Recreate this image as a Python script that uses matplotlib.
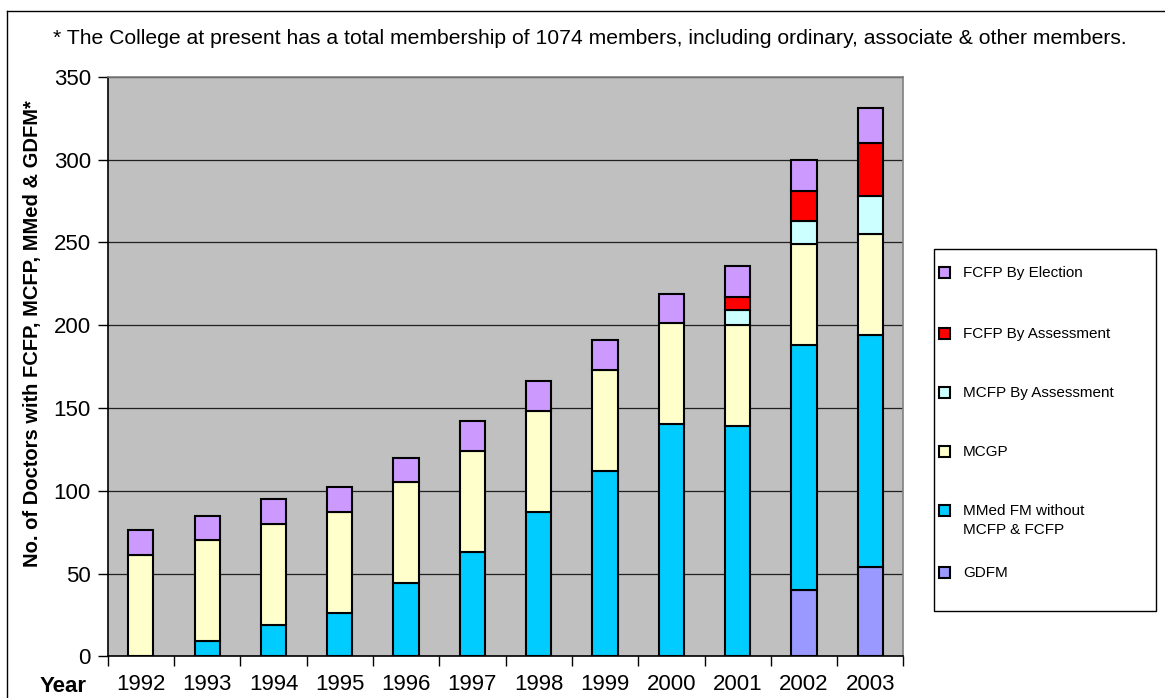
import numpy as np
import matplotlib
matplotlib.use("Agg")
from matplotlib import pyplot as plt
from matplotlib.lines import Line2D
from matplotlib.patches import Rectangle

plt.rcParams['font.family'] = ['Liberation Sans', 'DejaVu Sans']

years = ['1992', '1993', '1994', '1995', '1996', '1997',
         '1998', '1999', '2000', '2001', '2002', '2003']

# series, bottom to top
gdfm = [0, 0, 0, 0, 0, 0, 0, 0, 0, 0, 40, 54]
mmed_fm = [0, 9, 19, 26, 44, 63, 87, 112, 140, 139, 148, 140]
mcgp = [61, 61, 61, 61, 61, 61, 61, 61, 61, 61, 61, 61]
mcfp_assess = [0, 0, 0, 0, 0, 0, 0, 0, 0, 9, 14, 23]
fcfp_assess = [0, 0, 0, 0, 0, 0, 0, 0, 0, 8, 18, 32]
fcfp_elect = [15, 15, 15, 15, 15, 18, 18, 18, 18, 19, 19, 21]

series = [
    ('GDFM', gdfm, '#9999FF'),
    ('MMed FM without\nMCFP & FCFP', mmed_fm, '#00CCFF'),
    ('MCGP', mcgp, '#FFFFCC'),
    ('MCFP By Assessment', mcfp_assess, '#CCFFFF'),
    ('FCFP By Assessment', fcfp_assess, '#FF0000'),
    ('FCFP By Election', fcfp_elect, '#CC99FF'),
]

note = ('* The College at present has a total membership of 1074 members, '
        'including ordinary, associate & other members.')
ylabel = 'No. of Doctors with FCFP, MCFP, MMed & GDFM*'

W, H = 1165, 698
fig = plt.figure(figsize=(W / 100, H / 100), dpi=100)
ax = fig.add_axes([0.0924, 0.0597, 0.6831, 0.8304])
ax.set_facecolor('#C0C0C0')

x = np.arange(len(years))
bottom = np.zeros(len(years))
for name, vals, col in series:
    vals = np.array(vals, dtype=float)
    mask = vals > 0
    ax.bar(x[mask], vals[mask], bottom=bottom[mask], width=0.38,
           color=col, edgecolor='black', linewidth=1.5, zorder=3)
    bottom += vals

ax.set_xlim(-0.5, len(years) - 0.5)
ax.set_ylim(0, 350)
ax.set_yticks(np.arange(0, 351, 50))
ax.yaxis.grid(True, color='#202020', linewidth=0.9, zorder=1)
ax.set_axisbelow(True)

# category labels centred, ticks on the boundaries
ax.set_xticks(np.arange(-0.5, len(years), 1.0))
ax.set_xticklabels([])
ax.set_xticks(x, minor=True)
ax.set_xticklabels(years, minor=True, fontsize=16)
ax.tick_params(axis='x', which='minor', length=0, pad=13)
ax.tick_params(axis='x', which='major', length=7, width=1, color='black',
               direction='out')
ax.tick_params(axis='y', length=7, width=1, labelsize=16, pad=5)

for side in ['top', 'right']:
    ax.spines[side].set_color('#808080')
    ax.spines[side].set_linewidth(1.2)
for side in ['left', 'bottom']:
    ax.spines[side].set_color('black')
    ax.spines[side].set_linewidth(1.2)

fig.text(33 / W, 1 - 334 / H, ylabel, rotation=90, ha='center',
         va='center', fontsize=14.5, fontweight='bold')
fig.text(40 / W, 1 - 687 / H, 'Year', ha='left', va='center',
         fontsize=16, fontweight='bold')
fig.text(53 / W, 1 - 38 / H, note, ha='left', va='center', fontsize=15.2)

# outer chart border (left and top visible)
fig.add_artist(Line2D([7 / W, 7 / W], [0, 1 - 11 / H],
                      transform=fig.transFigure, color='black', linewidth=1))
fig.add_artist(Line2D([7 / W, 1], [1 - 11 / H, 1 - 11 / H],
                      transform=fig.transFigure, color='black', linewidth=1))

# legend, laid out by hand like the Excel one
fig.add_artist(Rectangle((934 / W, 1 - 611 / H), 222 / W, 362 / H,
                         transform=fig.transFigure, facecolor='white',
                         edgecolor='black', linewidth=1, zorder=1))
leg_rows = [272, 333, 392, 451, 510, 572]
for (name, vals, col), yy in zip(reversed(series), leg_rows):
    fig.add_artist(Rectangle((939 / W, 1 - (yy + 5.5) / H), 11 / W, 11 / H,
                             transform=fig.transFigure, facecolor=col,
                             edgecolor='black', linewidth=1.5, zorder=2))
    fig.text(963 / W, 1 - (yy - 6) / H, name, ha='left', va='top',
             fontsize=11, linespacing=1.45, zorder=2)

fig.savefig('out.png', dpi=100)
